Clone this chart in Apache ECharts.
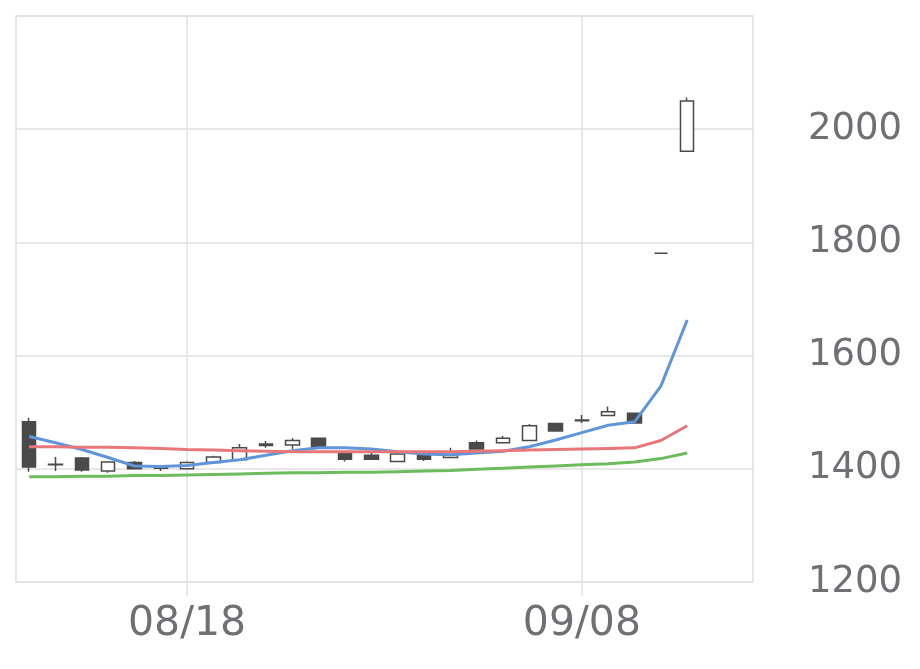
<!DOCTYPE html>
<html>
<head>
<meta charset="utf-8">
<script src="https://cdn.jsdelivr.net/npm/echarts@6/dist/echarts.min.js"></script>
<style>
  html, body { margin: 0; padding: 0; background: #fff; }
  #chart { width: 920px; height: 669px; }
</style>
</head>
<body>
<div id="chart"></div>
<script>
// 日付（最後の2つは空き）
const dates = ['08/07', '08/08', '08/12', '08/13', '08/14', '08/15', '08/18', '08/19', '08/20', '08/21',
  '08/22', '08/25', '08/26', '08/27', '08/28', '08/29', '09/01', '09/02', '09/03', '09/04',
  '09/05', '09/08', '09/09', '09/10', '09/11', '09/12', '09/16', '09/17']
const tickLabels = ['08/18', '09/08']

// [open, close, low, high]
const candles = [
  [1483, 1403, 1395, 1490],
  [1408, 1407, 1396, 1421],
  [1419, 1398, 1395, 1421],
  [1396, 1412, 1393, 1412],
  [1411, 1400, 1400, 1414],
  [1401, 1404, 1396, 1405],
  [1400, 1411, 1400, 1413],
  [1411, 1421, 1411, 1423],
  [1416, 1437, 1414, 1444],
  [1444, 1441, 1437, 1449],
  [1442, 1450, 1435, 1454],
  [1454, 1438, 1438, 1454],
  [1428, 1417, 1413, 1428],
  [1424, 1417, 1417, 1428],
  [1413, 1426, 1413, 1428],
  [1426, 1417, 1414, 1426],
  [1420, 1430, 1420, 1437],
  [1446, 1435, 1435, 1450],
  [1446, 1454, 1446, 1458],
  [1450, 1476, 1450, 1479],
  [1480, 1467, 1467, 1480],
  [1486, 1485, 1481, 1495],
  [1494, 1501, 1494, 1510],
  [1498, 1481, 1481, 1498],
  [1781, 1781, 1781, 1781],
  [1961, 2050, 1961, 2056]
]

// 移動平均線
const maShort = [1457, 1446, 1434, 1420, 1405, 1404, 1406, 1411, 1416, 1424, 1432, 1437, 1437,
  1435, 1430, 1426, 1425, 1428, 1431, 1439, 1451, 1464, 1477, 1483, 1546, 1663]
const maMid = [1439, 1439, 1438, 1438, 1437, 1436, 1434, 1433, 1432, 1431, 1430, 1430, 1430,
  1430, 1430, 1430, 1430, 1431, 1432, 1433, 1434, 1435, 1436, 1437, 1450, 1476]
const maLong = [1386, 1386, 1387, 1387, 1388, 1388, 1389, 1390, 1391, 1392, 1393, 1393, 1394,
  1394, 1395, 1396, 1397, 1399, 1401, 1403, 1405, 1407, 1409, 1412, 1418, 1428]

const myChart = echarts.init(document.getElementById('chart'))
const showTick = function (idx, val) {
  return tickLabels.indexOf(val) >= 0
}
const gridColor = '#e0e0e0'
const lineOpt = function (name, data, color) {
  return {
    name: name,
    type: 'line',
    data: data,
    symbol: 'none',
    lineStyle: { width: 3, color: color },
    z: 3
  }
}

const option = {
  animation: false,
  textStyle: { fontFamily: 'DejaVu Sans' },
  grid: {
    left: 16,
    top: 16,
    right: 167,
    bottom: 87,
    show: true,
    borderColor: gridColor,
    borderWidth: 1.5
  },
  xAxis: {
    type: 'category',
    data: dates,
    boundaryGap: true,
    axisLine: { show: false },
    axisTick: {
      show: true,
      alignWithLabel: true,
      interval: showTick,
      length: 14,
      lineStyle: { color: gridColor, width: 1.5 }
    },
    axisLabel: {
      interval: showTick,
      fontSize: 41,
      color: '#6e7074',
      margin: 22
    },
    splitLine: {
      show: true,
      alignWithLabel: true,
      interval: showTick,
      lineStyle: { color: gridColor, width: 1.5 }
    }
  },
  yAxis: {
    type: 'value',
    position: 'right',
    min: 1200,
    max: 2200,
    interval: 200,
    axisLine: { show: false },
    axisTick: { show: false },
    axisLabel: {
      fontSize: 37,
      color: '#6e7074',
      margin: 55,
      showMaxLabel: false,
      formatter: function (v) { return String(v) }
    },
    splitLine: { lineStyle: { color: gridColor, width: 1.5 } }
  },
  series: [
    {
      name: '株価',
      type: 'candlestick',
      data: candles,
      barWidth: 14,
      itemStyle: {
        color: '#ffffff',
        color0: '#4a4a4a',
        borderColor: '#4a4a4a',
        borderColor0: '#4a4a4a',
        borderWidth: 1.5
      },
      z: 2
    },
    lineOpt('短期', maShort, '#6096d9'),
    lineOpt('中期', maMid, '#e8777a'),
    lineOpt('長期', maLong, '#6cbb5c')
  ]
}
myChart.setOption(option)
window.addEventListener('resize', function () {
  myChart.resize()
})
</script>
</body>
</html>
